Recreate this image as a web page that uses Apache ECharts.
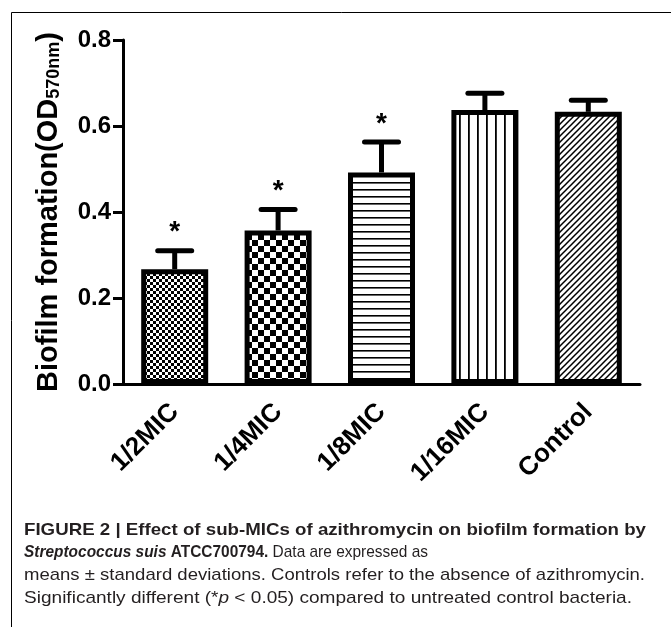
<!DOCTYPE html>
<html>
<head>
<meta charset="utf-8">
<script src="https://cdn.jsdelivr.net/npm/echarts@6/dist/echarts.min.js"></script>
<style>html,body{margin:0;padding:0;background:#fff}#c{width:671px;height:627px}</style>
</head>
<body>
<div id="c"></div>
<script>
// ---- data ----
const categories = ['1/2MIC', '1/4MIC', '1/8MIC', '1/16MIC', 'Control'];
const means = [0.267, 0.357, 0.492, 0.637, 0.633];
const sds = [0.043, 0.049, 0.071, 0.039, 0.027];
const significant = [true, true, true, false, false];
const yTicks = [0, 0.2, 0.4, 0.6, 0.8];
const captionLines = [
  [['b', 'FIGURE 2 | Effect of sub-MICs of azithromycin on biofilm formation by']],
  [['bi', 'Streptococcus suis'], ['b', ' ATCC700794.'], ['r', ' Data are expressed as']],
  [['r', 'means \u00b1 standard deviations. Controls refer to the absence of azithromycin.']],
  [['r', 'Significantly different (*'], ['i', 'p'], ['r', ' < 0.05) compared to untreated control bacteria.']]
];
const captionEnds = [646, 428, 645, 632];

// ---- patterns ----
function mk(w, h, draw) {
  const c = document.createElement('canvas');
  c.width = w; c.height = h;
  const g = c.getContext('2d');
  g.fillStyle = '#fff'; g.fillRect(0, 0, w, h);
  g.fillStyle = '#000'; g.strokeStyle = '#000';
  draw(g, w, h);
  return { image: c, repeat: 'repeat' };
}
const patterns = [
  mk(6, 6, g => { g.fillRect(0, 0, 3, 3); g.fillRect(3, 3, 3, 3); }),
  mk(12, 12, g => { g.fillRect(0, 0, 6, 6); g.fillRect(6, 6, 6, 6); }),
  mk(7, 7, g => { g.fillRect(0, 0, 7, 1.6); }),
  mk(9, 9, g => { g.fillRect(0, 0, 1.8, 9); }),
  mk(6, 6, g => {
    g.lineWidth = 1.5;
    g.beginPath();
    g.moveTo(-1, 7); g.lineTo(7, -1);
    g.moveTo(-4, 4); g.lineTo(4, -4);
    g.moveTo(2, 10); g.lineTo(10, 2);
    g.stroke();
  })
];

const FF = '"Liberation Sans", Arial, sans-serif';
const chart = echarts.init(document.getElementById('c'), null, { renderer: 'canvas' });

// caption graphics
const cap = document.createElement('canvas').getContext('2d');
const fonts = {
  b: 'bold 17px ' + FF, bi: 'italic bold 17px ' + FF, r: '17px ' + FF, i: 'italic 17px ' + FF
};
const captionGraphics = captionLines.map((segs, li) => {
  let w = 0;
  segs.forEach(s => { cap.font = fonts[s[0]]; w += cap.measureText(s[1]).width; });
  const sx = (captionEnds[li] - 24) / w;
  return {
    type: 'text', x: 24, y: 530 + li * 22.7, scaleX: sx, silent: true,
    style: {
      text: segs.map(s => '{' + s[0] + '|' + s[1] + '}').join(''),
      fill: '#231f20', verticalAlign: 'middle', align: 'left',
      rich: {
        b: { fontWeight: 'bold', fontSize: 17, fontFamily: FF, fill: '#231f20' },
        bi: { fontWeight: 'bold', fontStyle: 'italic', fontSize: 17, fontFamily: FF, fill: '#231f20' },
        r: { fontSize: 17, fontFamily: FF, fill: '#231f20' },
        i: { fontStyle: 'italic', fontSize: 17, fontFamily: FF, fill: '#231f20' }
      }
    }
  };
});

const option = {
  animation: false,
  backgroundColor: '#fff',
  grid: { left: 123, right: 31, top: 40, bottom: 243 },
  xAxis: {
    type: 'category',
    data: categories,
    axisLine: { lineStyle: { color: '#000', width: 3 } },
    axisTick: { alignWithLabel: true, length: 11, lineStyle: { color: '#000', width: 3 } },
    axisLabel: {
      rotate: 45, interval: 0, margin: 24, color: '#000',
      fontSize: 26, fontWeight: 'bold', fontFamily: FF
    }
  },
  yAxis: {
    type: 'value', min: 0, max: 0.8, interval: 0.2,
    splitLine: { show: false },
    axisLine: { show: true, lineStyle: { color: '#000', width: 3 } },
    axisTick: { show: true, length: 10, lineStyle: { color: '#000', width: 3 } },
    axisLabel: {
      margin: 12, color: '#000', fontSize: 24, fontWeight: 'bold', fontFamily: FF,
      formatter: v => { const t = yTicks.find(x => Math.abs(x - v) < 1e-9); return (t !== undefined ? t : v).toFixed(1); }
    },
    name: '{a|Biofilm formation(OD}{s|570nm}{a|)}',
    nameLocation: 'middle', nameRotate: 90, nameGap: 60,
    nameTextStyle: {
      rich: {
        a: { fontSize: 29, fontWeight: 'bold', fontFamily: FF, color: '#000', verticalAlign: 'bottom', lineHeight: 32 },
        s: { fontSize: 18, fontWeight: 'bold', fontFamily: FF, color: '#000', verticalAlign: 'bottom', lineHeight: 32 }
      }
    }
  },
  series: [
    {
      type: 'bar',
      barWidth: 67,
      silent: true,
      itemStyle: { borderColor: '#000', borderWidth: 5 },
      data: means.map((v, i) => ({ value: v, itemStyle: { color: patterns[i] } })),
      z: 2
    },
    {
      type: 'custom',
      silent: true,
      z: 3,
      encode: { x: 0, y: [1, 2] },
      data: categories.map((c, i) => [i, means[i], means[i] + sds[i], significant[i] ? 1 : 0]),
      renderItem: function (params, api) {
        const base = api.coord([api.value(0), api.value(1)]);
        const top = api.coord([api.value(0), api.value(2)]);
        const ch = [
          { type: 'line', shape: { x1: top[0], y1: base[1], x2: top[0], y2: top[1] }, style: { stroke: '#000', lineWidth: 5 } },
          { type: 'line', shape: { x1: top[0] - 17, y1: top[1], x2: top[0] + 17, y2: top[1] }, style: { stroke: '#000', lineWidth: 5, lineCap: 'round' } }
        ];
        if (api.value(3)) {
          ch.push({ type: 'text', x: top[0], y: top[1] - 18, style: { text: '*', font: 'bold 28px ' + FF, fill: '#000', align: 'center', verticalAlign: 'middle' } });
        }
        return { type: 'group', children: ch };
      }
    }
  ],
  graphic: [
    { type: 'rect', silent: true, z: -1, shape: { x: 11.5, y: 12.5, width: 700, height: 700 }, style: { fill: 'none', stroke: '#000', lineWidth: 1 } }
  ].concat(captionGraphics)
};
chart.setOption(option);
</script>
</body>
</html>
